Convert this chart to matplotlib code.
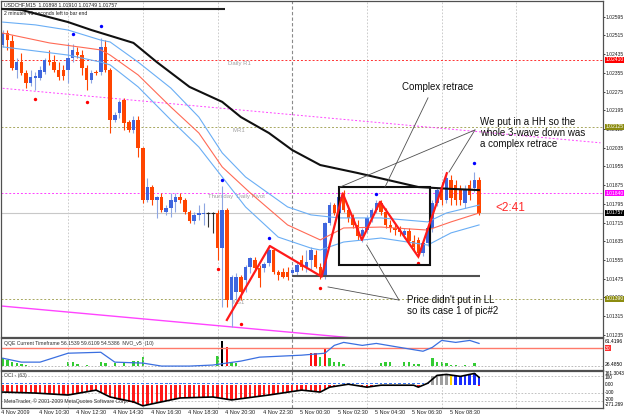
import matplotlib
matplotlib.use("Agg")
import matplotlib.pyplot as plt
import matplotlib.transforms as mtransforms
from matplotlib.patches import Rectangle
import numpy as np

plt.rcParams['font.family'] = ['Liberation Sans', 'DejaVu Sans']

# ---------------- data (USDCHF M15, bar index 0 = 4 Nov 2009 08:30) ----------------
opens = [1.02474, 1.02525, 1.02491, 1.02367, 1.02401, 1.02354, 1.02312, 1.02333, 1.02333, 1.02359,
         1.02410, 1.02401, 1.02367, 1.02367, 1.02367, 1.02419, 1.02444, 1.02431, 1.02376, 1.02325,
         1.02359, 1.02359, 1.02466, 1.02367, 1.02154, 1.02183, 1.02239, 1.02145, 1.02111, 1.02154,
         1.02034, 1.01812, 1.01867, 1.01812, 1.01824, 1.01760, 1.01777, 1.01803, 1.01824, 1.01812,
         1.01760, 1.01722, 1.01748, 1.01752, 1.01756, 1.01756, 1.01756, 1.01606, 1.01769, 1.01384,
         1.01418, 1.01483, 1.01470, 1.01525, 1.01555, 1.01521, 1.01521, 1.01542, 1.01598, 1.01504,
         1.01504, 1.01504, 1.01500, 1.01504, 1.01555, 1.01525, 1.01555, 1.01577, 1.01525, 1.01483,
         1.01713, 1.01790, 1.01756, 1.01824, 1.01769, 1.01735, 1.01705, 1.01658, 1.01683, 1.01735,
         1.01769, 1.01799, 1.01760, 1.01705, 1.01692, 1.01683, 1.01662, 1.01679, 1.01636, 1.01641,
         1.01585, 1.01628, 1.01692, 1.01799, 1.01854, 1.01812, 1.01897, 1.01876, 1.01854, 1.01799,
         1.01876, 1.01863, 1.01898]
highs = [1.02538, 1.02538, 1.02517, 1.02419, 1.02440, 1.02367, 1.02367, 1.02359, 1.02384, 1.02419,
         1.02453, 1.02431, 1.02401, 1.02389, 1.02483, 1.02478, 1.02466, 1.02453, 1.02389, 1.02367,
         1.02367, 1.02504, 1.02495, 1.02376, 1.02188, 1.02239, 1.02248, 1.02154, 1.02171, 1.02171,
         1.02038, 1.01906, 1.01876, 1.01829, 1.01842, 1.01790, 1.01842, 1.01842, 1.01842, 1.01820,
         1.01769, 1.01760, 1.01790, 1.01799, 1.01760, 1.01760, 1.01769, 1.01871, 1.01777, 1.01491,
         1.01500, 1.01491, 1.01534, 1.01568, 1.01568, 1.01534, 1.01547, 1.01615, 1.01606, 1.01512,
         1.01521, 1.01525, 1.01521, 1.01547, 1.01577, 1.01598, 1.01611, 1.01598, 1.01542, 1.01718,
         1.01803, 1.01799, 1.01846, 1.01854, 1.01790, 1.01752, 1.01726, 1.01692, 1.01748, 1.01777,
         1.01812, 1.01812, 1.01777, 1.01726, 1.01709, 1.01700, 1.01692, 1.01692, 1.01662, 1.01653,
         1.01641, 1.01700, 1.01812, 1.01863, 1.01889, 1.01931, 1.01918, 1.01897, 1.01876, 1.01876,
         1.01897, 1.01931, 1.01910]
lows = [1.02466, 1.02453, 1.02367, 1.02333, 1.02346, 1.02290, 1.02299, 1.02282, 1.02325, 1.02350,
        1.02389, 1.02359, 1.02325, 1.02325, 1.02312, 1.02401, 1.02419, 1.02346, 1.02282, 1.02312,
        1.02346, 1.02346, 1.02359, 1.02098, 1.02145, 1.02162, 1.02111, 1.02102, 1.02098, 1.01995,
        1.01799, 1.01803, 1.01790, 1.01735, 1.01760, 1.01748, 1.01739, 1.01760, 1.01799, 1.01752,
        1.01713, 1.01709, 1.01726, 1.01705, 1.01696, 1.01671, 1.01555, 1.01354, 1.01354, 1.01269,
        1.01384, 1.01384, 1.01418, 1.01500, 1.01512, 1.01440, 1.01504, 1.01530, 1.01495, 1.01470,
        1.01478, 1.01470, 1.01487, 1.01491, 1.01512, 1.01504, 1.01512, 1.01521, 1.01474, 1.01474,
        1.01705, 1.01748, 1.01748, 1.01760, 1.01718, 1.01692, 1.01641, 1.01632, 1.01671, 1.01718,
        1.01756, 1.01748, 1.01692, 1.01675, 1.01662, 1.01658, 1.01649, 1.01624, 1.01598, 1.01564,
        1.01572, 1.01615, 1.01675, 1.01786, 1.01790, 1.01799, 1.01790, 1.01790, 1.01790, 1.01777,
        1.01812, 1.01846, 1.01749]
closes = [1.02525, 1.02495, 1.02376, 1.02401, 1.02354, 1.02312, 1.02337, 1.02342, 1.02367, 1.02410,
          1.02401, 1.02367, 1.02337, 1.02342, 1.02419, 1.02453, 1.02431, 1.02376, 1.02325, 1.02354,
          1.02354, 1.02466, 1.02367, 1.02154, 1.02175, 1.02231, 1.02141, 1.02111, 1.02154, 1.02034,
          1.01812, 1.01867, 1.01812, 1.01824, 1.01769, 1.01777, 1.01812, 1.01824, 1.01812, 1.01760,
          1.01722, 1.01748, 1.01756, 1.01756, 1.01756, 1.01756, 1.01606, 1.01769, 1.01384, 1.01483,
          1.01483, 1.01418, 1.01525, 1.01564, 1.01521, 1.01478, 1.01538, 1.01598, 1.01504, 1.01491,
          1.01483, 1.01483, 1.01512, 1.01534, 1.01525, 1.01547, 1.01598, 1.01525, 1.01483, 1.01713,
          1.01790, 1.01756, 1.01824, 1.01769, 1.01735, 1.01705, 1.01658, 1.01683, 1.01735, 1.01769,
          1.01799, 1.01760, 1.01705, 1.01692, 1.01683, 1.01675, 1.01679, 1.01636, 1.01611, 1.01585,
          1.01628, 1.01692, 1.01799, 1.01854, 1.01812, 1.01906, 1.01820, 1.01812, 1.01812, 1.01854,
          1.01833, 1.01897, 1.01757]

# moving averages / envelope (bar index, price)
ma_black_idx = [0, 4, 14, 19, 28, 33, 40, 47, 51, 57, 62, 68, 76, 89, 96, 102]
ma_black = [1.02628, 1.02624, 1.02572, 1.02538, 1.02483, 1.02401, 1.02295, 1.02231, 1.02166,
            1.02098, 1.02025, 1.01961, 1.01927, 1.01867, 1.01859, 1.01854]
env_up_idx = [0, 7, 14, 21, 23, 29, 36, 42, 47, 52, 61, 66, 72, 81, 91, 95, 102]
env_up = [1.02572, 1.02560, 1.02538, 1.02495, 1.02487, 1.02401, 1.02290, 1.02166, 1.02013,
          1.01910, 1.01782, 1.01748, 1.01735, 1.01735, 1.01718, 1.01756, 1.01790]
env_mid_idx = [0, 10, 21, 23, 29, 36, 42, 47, 53, 61, 68, 73, 81, 91, 96, 102]
env_mid = [1.02525, 1.02483, 1.02453, 1.02431, 1.02346, 1.02209, 1.02098, 1.01953, 1.01842,
           1.01705, 1.01641, 1.01692, 1.01696, 1.01683, 1.01718, 1.01756]
env_low_idx = [0, 14, 21, 23, 29, 36, 42, 47, 52, 59, 66, 68, 73, 81, 91, 96, 102]
env_low = [1.02466, 1.02431, 1.02401, 1.02389, 1.02295, 1.02154, 1.02038, 1.01910, 1.01782,
           1.01653, 1.01606, 1.01598, 1.01632, 1.01649, 1.01619, 1.01671, 1.01705]

# fractals
frac_up_idx = [15, 21, 47, 57, 80, 101]
frac_up = [1.02521, 1.02555, 1.01897, 1.01649, 1.01836, 1.01969]
frac_dn_idx = [7, 18, 46, 51, 68, 89]
frac_dn = [1.02245, 1.02232, 1.01517, 1.01282, 1.01434, 1.01541]

# horizontal levels
daily_r1 = 1.02410
mr1 = 1.02125
pivot = 1.01840
ms1 = 1.01390
bid = 1.01757

# drawn objects
zigzag_idx = [48, 57.2, 68.3, 72.8, 76.9, 80.8, 89, 95.1]
zigzag_px = [1.01299, 1.01615, 1.01484, 1.01840, 1.01641, 1.01804, 1.01569, 1.01926]
box_idx = (72.0, 91.5)
box_px = (1.01534, 1.01866)
base_line = (62, 102.2, 1.01487)
top_line = (-0.6, 47.6, 1.02628)
chan_dash_idx = [0, 128]
chan_dash = [1.02289, 1.02056]
chan_solid_idx = [0, 80]
chan_solid = [1.01358, 1.01213]
connectors = [((91.07, 1.02248), (81.86, 1.01867)),
              ((101.13, 1.02111), (72.23, 1.01867)),
              ((101.13, 1.02111), (95.57, 1.01931)),
              ((84.86, 1.01384), (69.66, 1.01440)),
              ((84.86, 1.01384), (77.94, 1.01619))]

# QQE panel
qqe_idx = [0, 4, 8, 14, 21, 24, 30, 34, 40, 45, 48, 51, 55, 64, 69, 71, 73, 77, 80, 85, 90, 92, 94, 97, 100, 102]
qqe_val = [37.7, 32.7, 32.7, 44.0, 45.2, 32.7, 31.5, 27.7, 27.7, 29.0, 31.5, 34.0, 39.0, 41.5, 44.0,
           53.9, 57.7, 53.9, 56.4, 51.4, 46.5, 51.4, 60.2, 57.7, 60.2, 56.4]
nvo_idx = [0, 1, 2, 3, 4, 5, 14, 15, 16, 18, 21, 22, 24, 26, 28, 29, 30, 46, 47, 48, 49, 50,
           66, 67, 68, 69, 70, 71, 72, 73, 81, 82, 83, 86, 87, 88, 89, 92, 93, 94, 95, 96, 97, 99, 101]
nvo_val = [30, 22, 15, 11, 7, 4, 15, 15, 7, 4, 15, 11, 11, 15, 19, 19, 33, 37, 96, 70, 15, 11,
           48, 48, 33, 67, 30, 15, 15, 7, 11, 15, 15, 15, 15, 7, 7, 30, 15, 15, 11, 4, 4, 4, 11]
nvo_kind = ['g'] * len(nvo_idx)
for k, i in enumerate(nvo_idx):
    if i == 47:
        nvo_kind[k] = 'k'
    elif i in (48, 66, 67, 69):
        nvo_kind[k] = 'r'

# OsMA panel
osma_hist = [-80, -88, -95, -100, -95, -100, -105, -103,
             -110, -115, -112, -118, -120, -125, -127,
             -120, -110, -100, -85, -75, -67,
             -90, -120, -151,
             -170, -185, -200, -211, -220, -240, -259,
             -250, -240, -230, -211, -200, -190, -175, -163,
             -160, -158, -155, -152, -150, -150, -151,
             -160, -170, -180, -187,
             -180, -170, -160, -150, -145, -140, -132, -127,
             -120, -110, -100, -90, -80, -72, -67,
             -70, -80, -88, -91, -60, -31,
             -20, -10, -4, 5,
             -10, -20, -30, -31, -20, -12, -7, -5, -5, -6, -7, -7, -10, -7,
             -31, -10, 17, 100, 113, 118, 125, 120, 110, 101, 115, 128, 137, 89]
osma_line_idx = [0, 7, 14, 20, 23, 28, 30, 34, 38, 45, 49, 57, 64, 68, 70, 74, 78, 81, 88, 89, 91, 93, 95, 98, 101, 102]
osma_line = [-91, -103, -127, -67, -151, -211, -259, -211, -163, -151, -187, -127, -67, -91, -31, 5,
             -31, -7, -7, -31, 17, 113, 125, 101, 137, 89]

time_labels = ['4 Nov 2009', '4 Nov 10:30', '4 Nov 12:30', '4 Nov 14:30', '4 Nov 16:30', '4 Nov 18:30',
               '4 Nov 20:30', '4 Nov 22:30', '5 Nov 00:30', '5 Nov 02:30', '5 Nov 04:30', '5 Nov 06:30',
               '5 Nov 08:30']
price_ticks = [1.02595, 1.02515, 1.02435, 1.02355, 1.02275, 1.02195, 1.02115, 1.02035, 1.01955,
               1.01875, 1.01795, 1.01715, 1.01635, 1.01555, 1.01475, 1.01395, 1.01315, 1.01235]

# ---------------- layout ----------------
W, H = 625, 418
fig = plt.figure(figsize=(6.25, 4.18), dpi=100)
fig.patch.set_facecolor('white')
AX_FS = 3.6
TIME_FS = 4.0
SMALL_FS = 3.7


def fx(x):
    return x / W


def fy(y):
    return 1 - y / H


XL = (-0.364, 128.54)
ax = fig.add_axes([fx(1), fy(336.5), fx(603) - fx(1), (336.5 - 1) / H])
ax2 = fig.add_axes([fx(1), fy(369.5), fx(603) - fx(1), (369.5 - 337.5) / H])
ax3 = fig.add_axes([fx(1), fy(407.8), fx(603) - fx(1), (407.8 - 370.5) / H])

for a in (ax, ax2, ax3):
    a.set_xlim(*XL)
    a.set_xticks([])
    for s in a.spines.values():
        s.set_color('#505050')
        s.set_linewidth(0.9)
    for g in (14, 30, 46, 78, 94, 110):
        a.axvline(g, color='#C4C4C4', lw=0.6, ls=(0, (2, 2)), zorder=0)
    a.axvline(62, color='#8A8A8A', lw=0.8, ls=(0, (3, 2)), zorder=0)

# ---------------- main price panel ----------------
ax.set_ylim(1.012282, 1.026621)
o = np.array(opens); c = np.array(closes); h = np.array(highs); l = np.array(lows)
idx = np.arange(len(o))
bull = c > o
bear = c < o
doji = c == o
BULL, BEAR = '#3F66DE', '#FF4500'
ax.vlines(idx[bull], l[bull], h[bull], color='#8EA6E2', lw=0.8, zorder=2)
ax.vlines(idx[bear], l[bear], h[bear], color=BEAR, lw=0.8, zorder=2)
ax.vlines(idx[doji], l[doji], h[doji], color='#303030', lw=0.8, zorder=2)
minb = 0.00003
ax.bar(idx[bull], np.maximum(c[bull] - o[bull], minb), bottom=o[bull], width=0.74,
       color=BULL, zorder=2.5, linewidth=0)
ax.bar(idx[bear], np.maximum(o[bear] - c[bear], minb), bottom=c[bear], width=0.74,
       color=BEAR, zorder=2.5, linewidth=0)
ax.hlines(o[doji], idx[doji] - 0.37, idx[doji] + 0.37, color='#202020', lw=0.8, zorder=2.5)

# levels
ax.axhline(daily_r1, color='#FF3030', lw=0.7, ls=(0, (2, 2)), zorder=1)
ax.axhline(mr1, color='#A8A860', lw=0.7, ls=(0, (2, 2)), zorder=1)
ax.axhline(pivot, color='#FF40FF', lw=0.7, ls=(0, (2, 2)), zorder=1)
ax.axhline(ms1, color='#A8A860', lw=0.7, ls=(0, (2, 2)), zorder=1)
ax.axhline(bid, color='#C8C8C8', lw=0.8, zorder=1)
lvl_txt = dict(fontsize=4.3, color='#A0A0A0', ha='center', va='center', zorder=1)
off = 0.00015
ax.text(50.6, daily_r1 - off, 'Daily R1', **lvl_txt)
ax.text(50.6, mr1 - off, 'MR1', **lvl_txt)
ax.text(50.0, pivot - off, 'Thursday  Daily Pivot', **lvl_txt)
ax.text(50.6, ms1 - off, 'MS1', **lvl_txt)

# channel lines
ax.plot(chan_dash_idx, chan_dash, color='#FF44FF', lw=0.7, ls=(0, (2, 2)), zorder=1)
ax.plot(chan_solid_idx, chan_solid, color='#FF44FF', lw=1.0, zorder=1)

# MAs
ax.plot(env_up_idx, env_up, color='#6AAEF5', lw=0.8, zorder=3)
ax.plot(env_mid_idx, env_mid, color='#FF6A55', lw=0.8, zorder=3)
ax.plot(env_low_idx, env_low, color='#6AAEF5', lw=0.8, zorder=3)
ax.plot(ma_black_idx, ma_black, color='#101010', lw=1.5, zorder=3)

# fractals
ax.scatter(frac_up_idx, frac_up, s=6, color='#0000FF', zorder=4, linewidths=0)
ax.scatter(frac_dn_idx, frac_dn, s=6, color='#FF0000', zorder=4, linewidths=0)

# drawn objects
ax.hlines(top_line[2], top_line[0], top_line[1], color='#202020', lw=1.5, zorder=4)
ax.hlines(base_line[2], base_line[0], base_line[1], color='#505050', lw=1.5, zorder=4)
ax.add_patch(Rectangle((box_idx[0], box_px[0]), box_idx[1] - box_idx[0], box_px[1] - box_px[0],
                       fill=False, ec='#101010', lw=1.5, zorder=4))
ax.plot(zigzag_idx, zigzag_px, color='#FF1A1A', lw=1.6, zorder=5)
for (a0, a1) in connectors:
    ax.plot([a0[0], a1[0]], [a0[1], a1[1]], color='#505050', lw=0.6, zorder=5)

ann = dict(fontsize=7, color='#101010', zorder=6)
ax.text(85.5, 1.02295, 'Complex retrace', ha='left', va='center', **ann)
ax.text(102.2, 1.02166, 'We put in a HH so the\nwhole 3-wave down was\na complex retrace',
        ha='left', va='top', linespacing=1.15, **ann)
ax.text(86.6, 1.01406, "Price didn't put in LL\nso its case 1 of pic#2",
        ha='left', va='top', linespacing=1.15, **ann)
ax.text(105.4, 1.01777, '<2:41', ha='left', va='center', fontsize=8.5, color='#FF2A2A', zorder=6)

# right price axis
ax.yaxis.tick_right()
ax.set_yticks(price_ticks)
ax.set_yticklabels(['%.5f' % v for v in price_ticks])
ax.tick_params(axis='y', length=1.5, width=0.6, pad=0.6, labelsize=AX_FS, colors='#202020')
lab = dict(transform=ax.get_yaxis_transform(), ha='left', va='center', fontsize=AX_FS, zorder=10,
           clip_on=False)
for val, txt, bg in [(daily_r1, '1.02410', '#FF0000'), (mr1, '1.02125', '#8C8C10'),
                     (pivot, '1.01840', '#FF00FF'), (bid, '1.01757', '#000000'),
                     (ms1, '1.01390', '#8C8C10')]:
    ax.text(1.0038, val, txt, color='white',
            bbox=dict(boxstyle='square,pad=0.08', fc=bg, ec='none'), **lab)

fig.text(fx(4), fy(5), 'USDCHF,M15  1.01898 1.01910 1.01749 1.01757', fontsize=SMALL_FS,
         color='#202020', va='center')
fig.text(fx(4), fy(13.5), '2 minutes 41 seconds left to bar end', fontsize=SMALL_FS,
         color='#202020', va='center')

# ---------------- QQE panel ----------------
ax2.set_ylim(23.36, 63.9)
ax2.set_yticks([])
ax2.axhline(50.2, color='#FF7A6A', lw=1.0, zorder=1)
ax2.axhline(27.73, color='#B0B0B0', lw=0.6, ls=(0, (2, 2)), zorder=1)
ax2b = ax2.twinx()
ax2b.set_xlim(*XL)
ax2b.set_ylim(-12.96, 107.4)
ax2b.set_yticks([])
for s in ax2b.spines.values():
    s.set_visible(False)
col_map = {'g': '#33CC33', 'r': '#FF1010', 'k': '#000000'}
ax2b.bar(nvo_idx, nvo_val, width=0.5, color=[col_map[k] for k in nvo_kind], linewidth=0, zorder=2)
ax2.plot(qqe_idx, qqe_val, color='#3A6FE0', lw=0.9, zorder=3)
ax2.set_zorder(ax2b.get_zorder() + 1)
ax2.patch.set_visible(False)
fig.text(fx(4), fy(344), 'QQE Current Timeframe 56.1539 59.6109 54.5386  NVO_v5  (10)',
         fontsize=SMALL_FS, color='#303030', va='center')
fig.text(fx(605), fy(341.5), '61.4196', fontsize=AX_FS, va='center')
fig.text(fx(605), fy(348), '30', fontsize=AX_FS, va='center', color='white',
         bbox=dict(boxstyle='square,pad=0.08', fc='#FF3030', ec='none'))
fig.text(fx(605), fy(364.5), '26.4850', fontsize=AX_FS, va='center')

# ---------------- OsMA panel ----------------
ax3.set_ylim(-283.2, 172.8)
ax3.set_yticks([])
for lv in (100, -100, -200):
    ax3.axhline(lv, color='#B8B8B8', lw=0.6, ls=(0, (2, 2)), zorder=1)
hist = np.array(osma_hist, dtype=float)
oi = np.arange(len(hist))
neg = hist < 0
ax3.bar(oi[neg], np.minimum(hist[neg] + 3, -7), bottom=-3, width=0.5,
        color='#FF1A1A', linewidth=0, zorder=2)
cap = oi <= 91
ax3.bar(oi[cap], 14, bottom=3, width=0.58, color='#3C78F0', linewidth=0, zorder=2)
pos = hist > 30
pcol = []
for i in oi[pos]:
    if i <= 95:
        pcol.append('#A0A0A0')
    elif i == 96:
        pcol.append('#FFD400')
    else:
        pcol.append('#1A2CFF')
ax3.bar(oi[pos], hist[pos], width=0.58, color=pcol, linewidth=0, zorder=2)
ax3.bar([102], -14, bottom=-2, width=0.58, color='#FF1A1A', linewidth=0, zorder=2)
ax3.plot(osma_line_idx, osma_line, color='#000000', lw=1.2, zorder=3)
fig.text(fx(4), fy(375.5), 'OCI - (63)', fontsize=SMALL_FS, color='#404040', va='center')
fig.text(fx(4), fy(401), 'MetaTrader, \u00a9 2001-2009 MetaQuotes Software Corp.', fontsize=SMALL_FS,
         color='#303030', va='center')
for txt, yy in [('161.3043', 373.3), ('100', 377.2), ('0.00', 385), ('-100', 392.5),
                ('-200', 399.6), ('-271.269', 405)]:
    fig.text(fx(604.5), fy(yy), txt, fontsize=3.4, va='center')

# time axis
trans = mtransforms.blended_transform_factory(ax3.transData, fig.transFigure)
for k, t in enumerate(time_labels):
    ax3.text(8 * k - 0.3, fy(412.5), t, transform=trans, fontsize=TIME_FS, ha='left', va='center',
             color='#202020', clip_on=False)

fig.savefig('out.png', dpi=100, facecolor='white')
